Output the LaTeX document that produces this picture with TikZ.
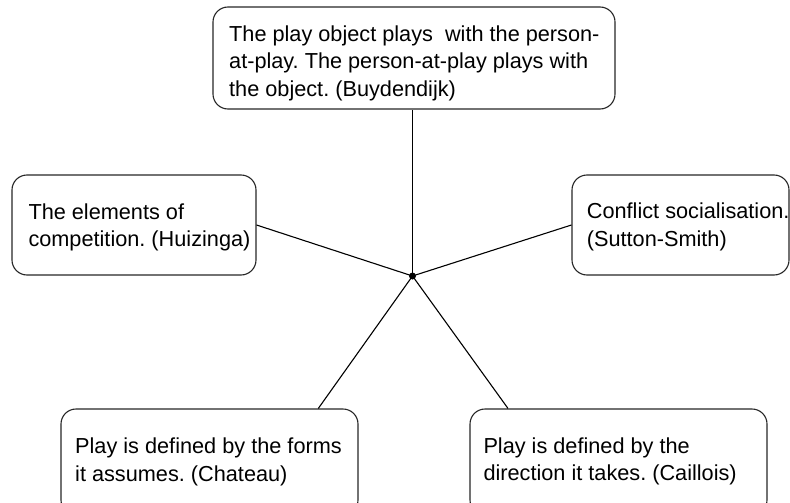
\documentclass[tikz,border=0pt]{standalone}
\usepackage{fontspec}
\setmainfont{Liberation Sans}
\frenchspacing
\begin{document}
\begin{tikzpicture}[x=1pt,y=-1pt,
  box/.style={draw=black!85, line width=1.1pt, rounded corners=15pt, rectangle, inner sep=0pt},
  txt/.style={anchor=north west, inner sep=0pt, align=left,
    font={\fontsize{21.7pt}{27.6pt}\selectfont\frenchspacing}},
  link/.style={draw=black, line width=1.1pt}]
\clip (0,0) rectangle (790,503);
% boxes
\node[box, minimum width=402pt, minimum height=102pt] (top) at (414,58) {};
\node[box, minimum width=244pt, minimum height=100pt] (left) at (134,225) {};
\node[box, minimum width=217pt, minimum height=100pt] (right) at (680.5,225) {};
\node[box, minimum width=297pt, minimum height=106pt] (bl) at (209.5,462) {};
\node[box, minimum width=297pt, minimum height=106pt] (br) at (618.5,462) {};
% texts
\node[txt] (ttop) at (229,25.1) {The play object plays \ with the person-\\at-play. The person-at-play plays with\\the object. (Buydendijk)};
\node[txt] (tleft) at (28.3,203.4) {The elements of\\competition. (Huizinga)};
\node[txt] (tright) at (586.7,202.7) {Conflict socialisation.\\(Sutton-Smith)};
\node[txt] (tbl) at (75,437.7) {Play is defined by the forms\\it assumes. (Chateau)};
\node[txt] (tbr) at (483.3,437.4) {Play is defined by the\\direction it takes. (Caillois)};
% centre
\node[circle, fill=black, inner sep=0pt, minimum size=7pt] (c) at (412.5,276) {};
% connectors
\draw[link] (c.center) -- (c.center |- top.south);
\draw[link] (c.center) -- (left.east);
\draw[link] (c.center) -- (right.west);
\draw[link] (c.center) -- ([xshift=108.8pt]bl.north);
\draw[link] (c.center) -- ([xshift=-110.5pt]br.north);
\end{tikzpicture}
\end{document}
